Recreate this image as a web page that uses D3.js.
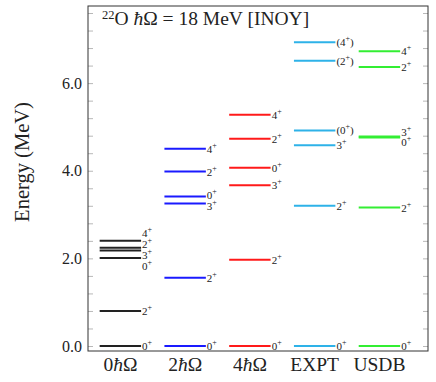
<!DOCTYPE html>
<html>
<head>
<meta charset="utf-8">
<script src="https://cdn.jsdelivr.net/npm/d3@7"></script>
<style>
  body { margin: 0; background: #fff; }
  text { font-family: "Liberation Serif", "DejaVu Serif", serif; fill: #222; }
</style>
</head>
<body>
<div id="chart"></div>
<script>
// Columns of the level scheme
const columns = ["0ħΩ", "2ħΩ", "4ħΩ", "EXPT", "USDB"];
const columnColors = ["#222222", "#1a1aff", "#ff1a1a", "#2eb2e8", "#33ee33"];

// Level energies (MeV) and spin labels for each column
const energies0 = [0.00, 0.80, 2.01, 2.18, 2.24, 2.40];
const spins0 = ["0+", "2+", "0+", "3+", "2+", "4+"];
const energies2 = [0.00, 1.56, 3.25, 3.41, 3.98, 4.50];
const spins2 = ["0+", "2+", "3+", "0+", "2+", "4+"];
const energies4 = [0.00, 1.97, 3.67, 4.07, 4.73, 5.28];
const spins4 = ["0+", "2+", "3+", "0+", "2+", "4+"];
const energiesExpt = [0.00, 3.20, 4.58, 4.92, 6.51, 6.93];
const spinsExpt = ["0+", "2+", "3+", "(0+)", "(2+)", "(4+)"];
const energiesUsdb = [0.00, 3.16, 4.76, 4.78, 6.37, 6.73];
const spinsUsdb = ["0+", "2+", "0+", "3+", "2+", "4+"];

const yMajor = [0, 2, 4, 6];

const allEnergies = [energies0, energies2, energies4, energiesExpt, energiesUsdb];
const allSpins = [spins0, spins2, spins4, spinsExpt, spinsUsdb];

const width = 436, height = 382;
const margin = { top: 6, right: 8, bottom: 31, left: 88 };

const svg = d3.select("#chart").append("svg")
  .attr("width", width)
  .attr("height", height);

// Scales: x in column units, y in MeV
const x = d3.scaleLinear().domain([-0.5, 4.75]).range([margin.left, width - margin.right]);
const y = d3.scaleLinear().domain([-0.114, 7.76]).range([height - margin.bottom, margin.top]);
const halfW = 0.32;

// Ticks every 0.4 MeV, labels only on the majors
const tickVals = d3.range(0, 7.7, 0.4).map(d => +d.toFixed(1));
const fmt = d3.format(".1f");

const leftAxis = svg.append("g")
  .attr("transform", `translate(${margin.left},0)`)
  .call(d3.axisLeft(y)
    .tickValues(tickVals)
    .tickSize(-5)
    .tickPadding(6)
    .tickFormat(d => yMajor.includes(d) ? fmt(d) : ""));
leftAxis.select(".domain").remove();
leftAxis.selectAll("line").attr("stroke", "#b8b8b8");
leftAxis.selectAll("text")
  .style("font-family", '"Liberation Serif", serif')
  .style("font-size", "16px")
  .attr("fill", "#222");

const rightAxis = svg.append("g")
  .attr("transform", `translate(${width - margin.right},0)`)
  .call(d3.axisRight(y).tickValues(tickVals).tickSize(-5).tickFormat(""));
rightAxis.select(".domain").remove();
rightAxis.selectAll("line").attr("stroke", "#b8b8b8");

// Frame
svg.append("rect")
  .attr("x", margin.left)
  .attr("y", margin.top)
  .attr("width", width - margin.left - margin.right)
  .attr("height", height - margin.top - margin.bottom)
  .attr("fill", "none")
  .attr("stroke", "#333")
  .attr("stroke-width", 1);

// Spread labels that sit too close to each other
function spreadLabels(values, minSep) {
  const order = d3.range(values.length).sort((a, b) => values[a] - values[b]);
  const p = order.map(i => values[i]);
  for (let k = 0; k < 80; k++) {
    for (let i = 1; i < p.length; i++) {
      const gap = p[i] - p[i - 1];
      if (gap < minSep) {
        const d = (minSep - gap) / 2;
        p[i] += d;
        p[i - 1] -= d;
      }
    }
  }
  const out = new Array(values.length);
  order.forEach((idx, j) => { out[idx] = p[j]; });
  return out;
}

// Write "2+" / "(2+)" with a superscript plus
function spinText(sel, s) {
  const m = s.match(/^(\(?)(\d)\+(\)?)$/);
  sel.append("tspan").text(m[1] + m[2]);
  sel.append("tspan").attr("dy", -5).style("font-size", "8px").text("+");
  if (m[3]) sel.append("tspan").attr("dy", 5).text(m[3]);
}

columns.forEach((col, c) => {
  const es = allEnergies[c];
  const sp = allSpins[c];
  const g = svg.append("g");

  g.selectAll("line.level")
    .data(es)
    .join("line")
    .attr("class", "level")
    .attr("x1", x(c - halfW))
    .attr("x2", x(c + halfW))
    .attr("y1", d => y(d))
    .attr("y2", d => y(d))
    .attr("stroke", columnColors[c])
    .attr("stroke-width", 2);

  const labelPos = spreadLabels(es, 0.25);
  g.selectAll("text.spin")
    .data(sp)
    .join("text")
    .attr("class", "spin")
    .attr("x", x(c + halfW) + 1)
    .attr("y", (d, i) => y(labelPos[i]) + 4)
    .style("font-size", "11px")
    .each(function (d) { spinText(d3.select(this), d); });

  // Category label under the frame
  const lab = svg.append("text")
    .attr("x", x(c))
    .attr("y", height - 11)
    .attr("text-anchor", "middle")
    .style("font-size", "19.5px");
  const m = col.match(/^(\d)ħΩ$/);
  if (m) {
    lab.append("tspan").text(m[1]);
    lab.append("tspan").style("font-style", "italic").text("ħ");
    lab.append("tspan").text("Ω");
  } else {
    lab.text(col);
  }
});

// Title inside the frame
const title = svg.append("text")
  .attr("x", 102)
  .attr("y", 25)
  .style("font-size", "19.5px");
title.append("tspan").attr("dy", -6).style("font-size", "12.5px").text("22");
title.append("tspan").attr("dy", 6).text("O ");
title.append("tspan").style("font-style", "italic").text("ħ");
title.append("tspan").text("Ω = 18 MeV [INOY]");

// Y axis title
svg.append("text")
  .attr("transform", "translate(29,162) rotate(-90)")
  .attr("text-anchor", "middle")
  .style("font-size", "20.5px")
  .text("Energy (MeV)");
</script>
</body>
</html>
